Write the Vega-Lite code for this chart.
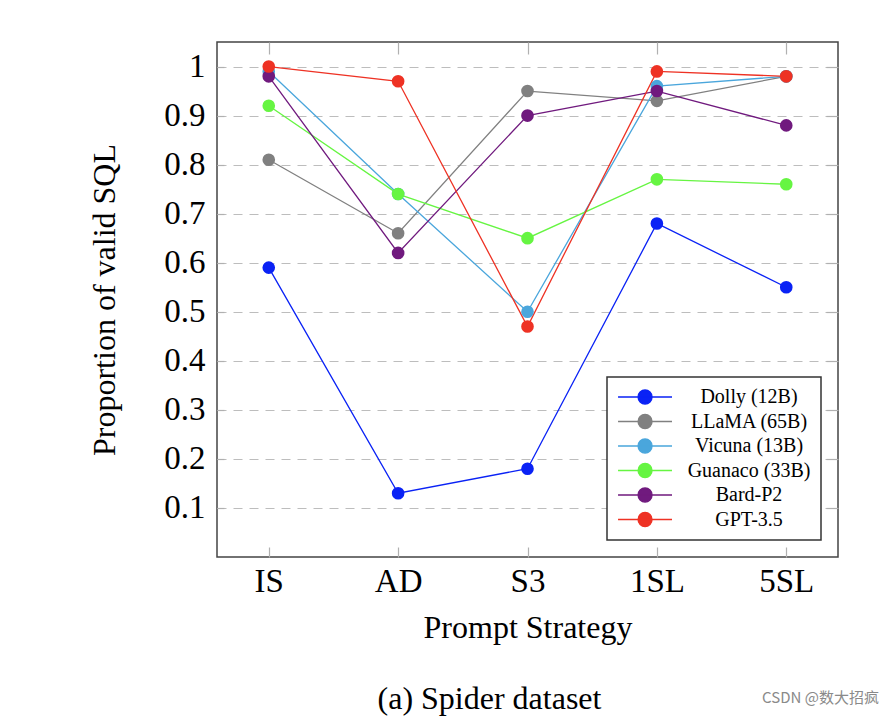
{
  "$schema": "https://vega.github.io/schema/vega-lite/v6.json",
  "width": 621,
  "height": 515,
  "autosize": {"type": "none"},
  "padding": {"left": 217, "top": 42, "right": 52, "bottom": 163},
  "background": "white",
  "config": {
    "font": "Liberation Serif",
    "view": {"stroke": "#444444", "strokeWidth": 1.5},
    "axis": {"domain": false, "labelColor": "black", "titleColor": "black", "titleFontWeight": "normal", "tickColor": "#b0b0b0", "tickWidth": 1.2}
  },
  "title": {
    "text": "(a) Spider dataset",
    "orient": "bottom",
    "anchor": "middle",
    "dx": -38,
    "offset": -21,
    "fontSize": 32,
    "fontWeight": "normal",
    "font": "Liberation Serif",
    "color": "black"
  },
  "data": {
    "values": [
      {"model": "Dolly (12B)", "strategy": "IS", "value": 0.59},
      {"model": "Dolly (12B)", "strategy": "AD", "value": 0.13},
      {"model": "Dolly (12B)", "strategy": "S3", "value": 0.18},
      {"model": "Dolly (12B)", "strategy": "1SL", "value": 0.68},
      {"model": "Dolly (12B)", "strategy": "5SL", "value": 0.55},
      {"model": "LLaMA (65B)", "strategy": "IS", "value": 0.81},
      {"model": "LLaMA (65B)", "strategy": "AD", "value": 0.66},
      {"model": "LLaMA (65B)", "strategy": "S3", "value": 0.95},
      {"model": "LLaMA (65B)", "strategy": "1SL", "value": 0.93},
      {"model": "LLaMA (65B)", "strategy": "5SL", "value": 0.98},
      {"model": "Vicuna (13B)", "strategy": "IS", "value": 0.99},
      {"model": "Vicuna (13B)", "strategy": "AD", "value": 0.74},
      {"model": "Vicuna (13B)", "strategy": "S3", "value": 0.50},
      {"model": "Vicuna (13B)", "strategy": "1SL", "value": 0.96},
      {"model": "Vicuna (13B)", "strategy": "5SL", "value": 0.98},
      {"model": "Guanaco (33B)", "strategy": "IS", "value": 0.92},
      {"model": "Guanaco (33B)", "strategy": "AD", "value": 0.74},
      {"model": "Guanaco (33B)", "strategy": "S3", "value": 0.65},
      {"model": "Guanaco (33B)", "strategy": "1SL", "value": 0.77},
      {"model": "Guanaco (33B)", "strategy": "5SL", "value": 0.76},
      {"model": "Bard-P2", "strategy": "IS", "value": 0.98},
      {"model": "Bard-P2", "strategy": "AD", "value": 0.62},
      {"model": "Bard-P2", "strategy": "S3", "value": 0.90},
      {"model": "Bard-P2", "strategy": "1SL", "value": 0.95},
      {"model": "Bard-P2", "strategy": "5SL", "value": 0.88},
      {"model": "GPT-3.5", "strategy": "IS", "value": 1.0},
      {"model": "GPT-3.5", "strategy": "AD", "value": 0.97},
      {"model": "GPT-3.5", "strategy": "S3", "value": 0.47},
      {"model": "GPT-3.5", "strategy": "1SL", "value": 0.99},
      {"model": "GPT-3.5", "strategy": "5SL", "value": 0.98}
    ]
  },
  "encoding": {
    "x": {"field": "strategy", "type": "ordinal", "sort": ["IS", "AD", "S3", "1SL", "5SL"], "scale": {"type": "point", "padding": 0.4}},
    "y": {"field": "value", "type": "quantitative", "scale": {"domain": [0, 1.05], "nice": false, "zero": false}},
    "color": {
      "field": "model", "type": "nominal",
      "scale": {
        "domain": ["Dolly (12B)", "LLaMA (65B)", "Vicuna (13B)", "Guanaco (33B)", "Bard-P2", "GPT-3.5"],
        "range": ["#0a22f5", "#808080", "#4aa6dc", "#66f542", "#701a7e", "#ee3224"]
      },
      "legend": {
        "title": null,
        "orient": "bottom-right",
        "offset": 17,
        "padding": 10,
        "strokeColor": "#333333",
        "fillColor": "white",
        "symbolType": "M-1.28,0L6.43,0M3.58,0A1,1,0,1,1,1.58,0A1,1,0,1,1,3.58,0Z",
        "symbolSize": 196,
        "symbolStrokeWidth": 1.3,
        "symbolOpacity": 1,
        "labelFont": "Liberation Serif",
        "labelFontSize": 20,
        "labelColor": "black",
        "labelAlign": "center",
        "labelOffset": 112,
        "labelLimit": 200,
        "rowPadding": 4.5,
        "encode": {"legend": {"update": {"strokeWidth": {"value": 1.5}}}}
      }
    }
  },
  "layer": [
    {
      "mark": {"type": "line", "strokeWidth": 1.3},
      "encoding": {
        "x": {"field": "strategy", "type": "ordinal", "sort": ["IS", "AD", "S3", "1SL", "5SL"], "scale": {"type": "point", "padding": 0.4},
          "axis": {"orient": "bottom", "labelAngle": 0, "labelFontSize": 33, "labelFont": "Liberation Serif", "tickSize": -10, "labelPadding": 18, "grid": false,
            "title": "Prompt Strategy", "titleFontSize": 32, "titleFont": "Liberation Serif", "titlePadding": 14}},
        "y": {"field": "value", "type": "quantitative", "scale": {"domain": [0, 1.05], "nice": false, "zero": false},
          "axis": {"orient": "left", "values": [0.1, 0.2, 0.3, 0.4, 0.5, 0.6, 0.7, 0.8, 0.9, 1], "format": ".1~f", "labelFontSize": 33, "labelFont": "Liberation Serif", "tickSize": -7, "labelPadding": 19,
            "grid": true, "gridColor": "#bdbdbd", "gridDash": [9, 7], "gridWidth": 1.2,
            "title": "Proportion of valid SQL", "titleFontSize": 32, "titleFont": "Liberation Serif", "titlePadding": 42}}
      }
    },
    {
      "mark": {"type": "point", "filled": true, "opacity": 1, "size": 160},
      "encoding": {
        "x": {"field": "strategy", "type": "ordinal", "sort": ["IS", "AD", "S3", "1SL", "5SL"], "scale": {"type": "point", "padding": 0.4},
          "axis": {"orient": "top", "labels": false, "tickSize": -12, "grid": false, "title": null}},
        "y": {"field": "value", "type": "quantitative", "scale": {"domain": [0, 1.05], "nice": false, "zero": false},
          "axis": {"orient": "right", "values": [0.1, 0.2, 0.3, 0.4, 0.5, 0.6, 0.7, 0.8, 0.9, 1], "labels": false, "tickSize": -12, "grid": false,
            "title": "CSDN @数大招疯", "titleAngle": 0, "titleX": -18, "titleY": 655, "titleAlign": "center", "titleBaseline": "middle",
            "titleFont": "Noto Sans CJK SC", "titleFontSize": 15, "titleColor": "#8a8a8a", "titleFontWeight": "normal"}}
      }
    }
  ],
  "resolve": {"axis": {"x": "independent", "y": "independent"}}
}
